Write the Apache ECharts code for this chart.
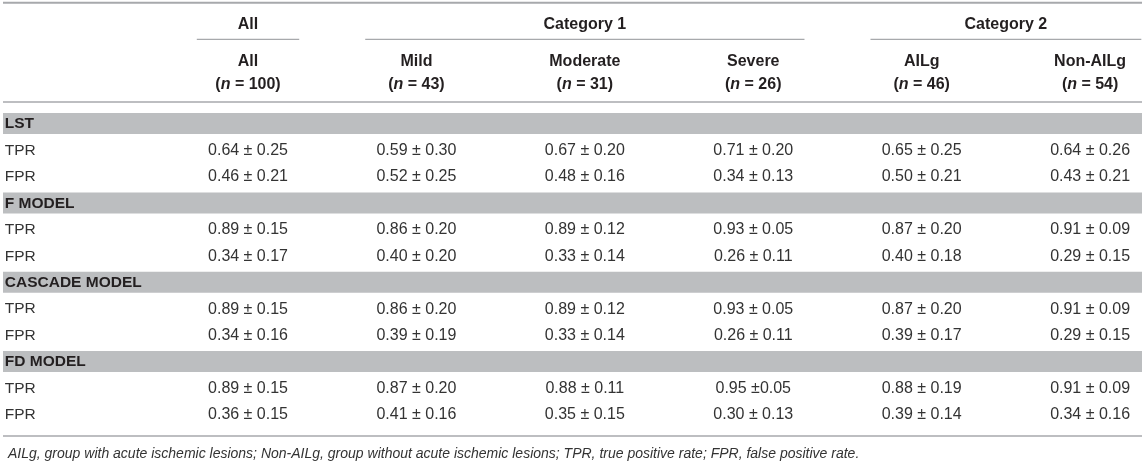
<!DOCTYPE html>
<html>
<head>
<meta charset="utf-8">
<script src="https://cdn.jsdelivr.net/npm/echarts@6/dist/echarts.min.js"></script>
<style>
  html, body { margin: 0; padding: 0; background: #fff; }
  #chart { width: 1144px; height: 463px; }
</style>
</head>
<body>
<div id="chart"></div>
<script>
// column headers
var columns = ['All', 'Mild', 'Moderate', 'Severe', 'AILg', 'Non-AILg'];
var counts = [100, 43, 31, 26, 46, 54];
// top header groups, spans are column indexes
var groupNames = ['All', 'Category 1', 'Category 2'];
var groupSpans = [[0, 0], [1, 3], [4, 5]];
// row blocks
var models = ['LST', 'F MODEL', 'CASCADE MODEL', 'FD MODEL'];
var rates = ['TPR', 'FPR'];
// mean / sd per model, per column
var tprMean = [
    [0.64, 0.59, 0.67, 0.71, 0.65, 0.64],
    [0.89, 0.86, 0.89, 0.93, 0.87, 0.91],
    [0.89, 0.86, 0.89, 0.93, 0.87, 0.91],
    [0.89, 0.87, 0.88, 0.95, 0.88, 0.91]
];
var tprSd = [
    [0.25, 0.30, 0.20, 0.20, 0.25, 0.26],
    [0.15, 0.20, 0.12, 0.05, 0.20, 0.09],
    [0.15, 0.20, 0.12, 0.05, 0.20, 0.09],
    [0.15, 0.20, 0.11, 0.05, 0.19, 0.09]
];
var fprMean = [
    [0.46, 0.52, 0.48, 0.34, 0.50, 0.43],
    [0.34, 0.40, 0.33, 0.26, 0.40, 0.29],
    [0.34, 0.39, 0.33, 0.26, 0.39, 0.29],
    [0.36, 0.41, 0.35, 0.30, 0.39, 0.34]
];
var fprSd = [
    [0.21, 0.25, 0.16, 0.13, 0.21, 0.21],
    [0.17, 0.20, 0.14, 0.11, 0.18, 0.15],
    [0.16, 0.19, 0.14, 0.11, 0.17, 0.15],
    [0.15, 0.16, 0.15, 0.13, 0.14, 0.16]
];
// cell printed without the space after ± in the source table
var tightCells = ['FD MODEL|TPR|Severe'];
var footnote = 'AILg, group with acute ischemic lesions; Non-AILg, group without acute ischemic lesions; TPR, true positive rate; FPR, false positive rate.';

var FONT = '"Liberation Sans", Arial, Helvetica, sans-serif';
var TEXT = '#231f20';
var BODY = '#333333';
var RULE = '#a7a9ac';
var BAND = '#bcbec0';

//build rows and cells
var rowIds = [], rowLabels = [], bandRows = [];
var cellData = [], cellText = [];
models.forEach(function (m, mi) {
    bandRows.push([1, rowIds.length]);
    rowIds.push(m);
    rowLabels.push('{m|' + m + '}');
    rates.forEach(function (r, ri) {
        var rowIdx = rowIds.length;
        rowIds.push(m + '|' + r);
        rowLabels.push('{r|' + r + '}');
        var mean = ri == 0 ? tprMean[mi] : fprMean[mi];
        var sd = ri == 0 ? tprSd[mi] : fprSd[mi];
        for (var c = 0; c < columns.length; c++) {
            var tight = tightCells.indexOf(m + '|' + r + '|' + columns[c]) >= 0;
            cellData.push([c + 1, rowIdx]);
            cellText.push(mean[c].toFixed(2) + (tight ? ' \u00b1' : ' \u00b1 ') + sd[c].toFixed(2));
        }
    });
});

var myChart = echarts.init(document.getElementById('chart'));

var option = {
    backgroundColor: '#fff',
    animation: false,
    title: {
        text: footnote,
        left: 3,
        top: 442,
        textStyle: {fontFamily: FONT, fontSize: 14, fontStyle: 'italic', fontWeight: 'normal', color: BODY}
    },
    grid: {left: 163.8, right: 0, top: 110.8, bottom: 34.8},
    xAxis: {
        type: 'value',
        position: 'top',
        min: 0.5,
        max: 6.32,
        axisLine: {show: false},
        axisTick: {show: false},
        splitLine: {show: false},
        axisLabel: {
            customValues: [1, 2, 3, 4, 5, 6],
            margin: 15,
            formatter: function (v) {
                var i = Math.round(v) - 1;
                return '{b|' + columns[i] + '}\n{b|(}{i|n}{b| = ' + counts[i] + ')}';
            },
            rich: {
                b: {fontFamily: FONT, fontSize: 16, fontWeight: 'bold', lineHeight: 23, color: TEXT},
                i: {fontFamily: FONT, fontSize: 16, fontWeight: 'bold', fontStyle: 'italic', lineHeight: 23, color: TEXT}
            }
        }
    },
    yAxis: {
        type: 'category',
        inverse: true,
        data: rowIds,
        axisLine: {show: false},
        axisTick: {show: false},
        splitLine: {show: false},
        axisLabel: {
            interval: 0,
            align: 'left',
            margin: 159,
            formatter: function (v, idx) { return rowLabels[idx]; },
            rich: {
                m: {fontFamily: FONT, fontSize: 15.5, fontWeight: 'bold', color: TEXT},
                r: {fontFamily: FONT, fontSize: 15.5, color: BODY}
            }
        }
    },
    series: [
        {
            // grey band behind every model row
            type: 'custom',
            z: -1,
            clip: false,
            data: bandRows,
            renderItem: function (params, api) {
                var p = api.coord([1, api.value(1)]);
                return {
                    type: 'rect',
                    shape: {x: 3, y: p[1] - 11, width: api.getWidth() - 5, height: 21},
                    style: {fill: BAND}
                };
            }
        },
        {
            // horizontal rules of the table
            type: 'custom',
            clip: false,
            data: [[1, 0]],
            renderItem: function (params, api) {
                var cs = params.coordSys;
                var w = api.getWidth();
                return {
                    type: 'group',
                    children: [
                        {type: 'rect', shape: {x: 3, y: cs.y - 109, width: w - 5, height: 2}, style: {fill: RULE}},
                        {type: 'rect', shape: {x: 3, y: cs.y - 9.5, width: w - 5, height: 1.5}, style: {fill: RULE}},
                        {type: 'rect', shape: {x: 3, y: cs.y + cs.height + 7, width: w - 5, height: 1.5}, style: {fill: RULE}}
                    ]
                };
            }
        },
        {
            // group headers with their underline
            type: 'custom',
            clip: false,
            data: groupSpans.map(function (s) { return [s[0] + 1, s[1] + 1]; }),
            renderItem: function (params, api) {
                var cs = params.coordSys;
                var x1 = api.coord([api.value(0) - 0.5, 0])[0] + 33;
                var x2 = Math.min(api.coord([api.value(1) + 0.5, 0])[0] - 33, api.getWidth() - 2);
                return {
                    type: 'group',
                    children: [
                        {
                            type: 'text',
                            x: (x1 + x2) / 2,
                            y: cs.y - 86.5,
                            style: {
                                text: groupNames[params.dataIndex],
                                fill: TEXT,
                                font: 'bold 16px ' + FONT,
                                align: 'center',
                                verticalAlign: 'middle'
                            }
                        },
                        {type: 'rect', shape: {x: x1, y: cs.y - 72, width: x2 - x1, height: 1.2}, style: {fill: RULE}}
                    ]
                };
            }
        },
        {
            // table values
            type: 'custom',
            clip: false,
            data: cellData,
            renderItem: function (params, api) {
                var p = api.coord([api.value(0), api.value(1)]);
                return {
                    type: 'text',
                    x: p[0],
                    y: p[1],
                    style: {
                        text: cellText[params.dataIndex],
                        fill: BODY,
                        font: '16px ' + FONT,
                        align: 'center',
                        verticalAlign: 'middle'
                    }
                };
            }
        }
    ]
};
myChart.setOption(option);
</script>
</body>
</html>
